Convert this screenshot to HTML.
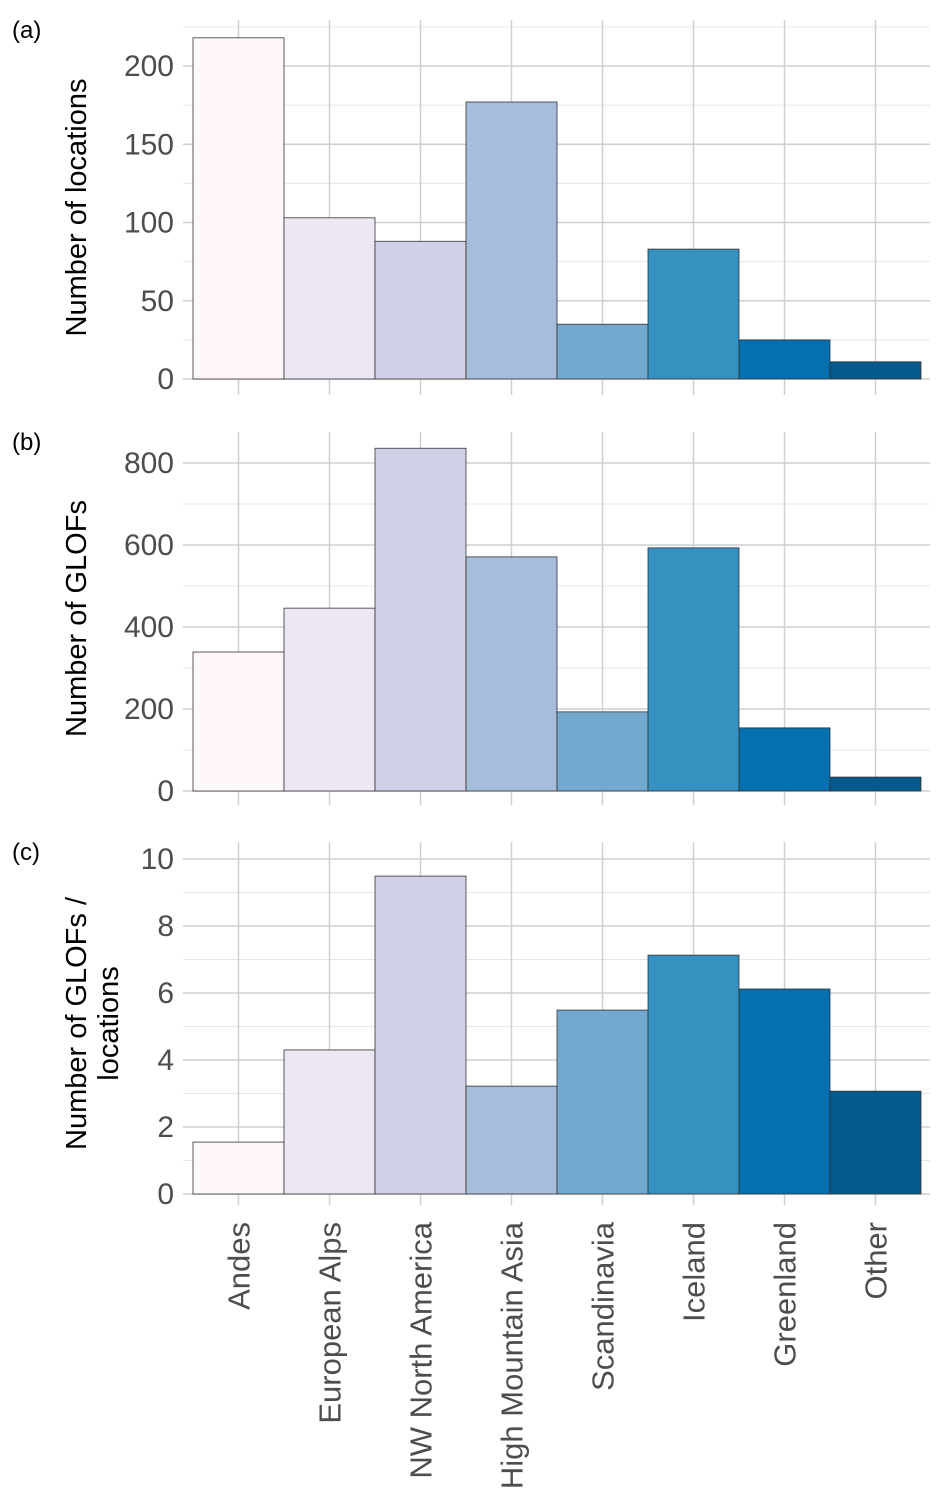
<!DOCTYPE html>
<html><head><meta charset="utf-8"><style>
body{margin:0;background:#fff;}
svg{display:block;font-family:"Liberation Sans",Arial,sans-serif;}
</style></head><body>
<svg id="chart" width="949" height="1508"></svg>
<script>
const categories=["Andes","European Alps","NW North America","High Mountain Asia","Scandinavia","Iceland","Greenland","Other"];
const colors=["#fff7fb","#ece7f2","#d0d1e6","#a6bddb","#74a9cf","#3690c0","#0570b0","#045a8d"];
const locations=[218,103,88,177,35,83,25,11];
const glofs=[339,446,836,571,193,593,154,34];
const ratio=[1.55,4.3,9.49,3.22,5.49,7.13,6.12,3.07];
const ticksA=[0,50,100,150,200];
const ticksB=[0,200,400,600,800];
const ticksC=[0,2,4,6,8,10];
const NS="http://www.w3.org/2000/svg";
const svg=document.getElementById('chart');
function mk(tag,attrs,parent){const e=document.createElementNS(NS,tag);for(const k in attrs)e.setAttribute(k,attrs[k]);(parent||svg).appendChild(e);return e;}
const x0=193,step=91,gl=183,gr=930;
function xc(i){return x0+step*i+step/2;}
const panels=[
 {key:"a",label:"(a)",vals:locations,ticks:ticksA,y0:379,ytop:66,vtop:200,top:20,bot:395,title:["Number of locations"]},
 {key:"b",label:"(b)",vals:glofs,ticks:ticksB,y0:791,ytop:463,vtop:800,top:432,bot:805,title:["Number of GLOFs"]},
 {key:"c",label:"(c)",vals:ratio,ticks:ticksC,y0:1194,ytop:859,vtop:10,top:842,bot:1205,title:["Number of GLOFs /","locations"]}
];
panels.forEach(p=>{
 const g=mk('g',{});
 
 
 const y=v=>p.y0-(v/p.vtop)*(p.y0-p.ytop);
 const dt=p.ticks[1]-p.ticks[0];
 for(let v=dt/2;y(v)>=p.top;v+=dt){mk('line',{x1:gl,x2:gr,y1:y(v),y2:y(v),stroke:'#e6e6e6','stroke-width':1},g);}
 p.ticks.forEach(v=>{mk('line',{x1:gl,x2:gr,y1:y(v),y2:y(v),stroke:'#cfcfcf','stroke-width':1.5},g);});
 categories.forEach((c,i)=>{mk('line',{x1:xc(i),x2:xc(i),y1:p.top,y2:p.bot,stroke:'#cfcfcf','stroke-width':1.5},g);});
 p.vals.forEach((v,i)=>{
  const r=mk('rect',{x:x0+step*i,y:y(v),width:step,height:p.y0-y(v),fill:colors[i],stroke:'#333','stroke-width':0.8},g);
  
  
 });
 p.ticks.forEach(v=>{
  const t=mk('text',{x:174,y:y(v)+10,'text-anchor':'end','font-size':30,fill:'#4d4d4d'},g);t.textContent=v;
  
  
 });
 const cy=(p.top+p.bot)/2;
 const tt=mk('text',{transform:`translate(86,${cy}) rotate(-90)`,'text-anchor':'middle','font-size':29,fill:'#000'},g);
 
 
 p.title.forEach((s,k)=>{const ts=mk('tspan',{x:0,dy:k?32:0},tt);ts.textContent=s;});
 const pl=mk('text',{x:12,y:p.top+18,'font-size':24,fill:'#000'},g);pl.textContent=p.label;
 
 
});
categories.forEach((c,i)=>{
 const t=mk('text',{transform:`translate(${xc(i)+11},1222) rotate(-90)`,'text-anchor':'end','font-size':31,fill:'#4d4d4d'});
 t.textContent=c;
 
 
});
</script>
</body></html>
